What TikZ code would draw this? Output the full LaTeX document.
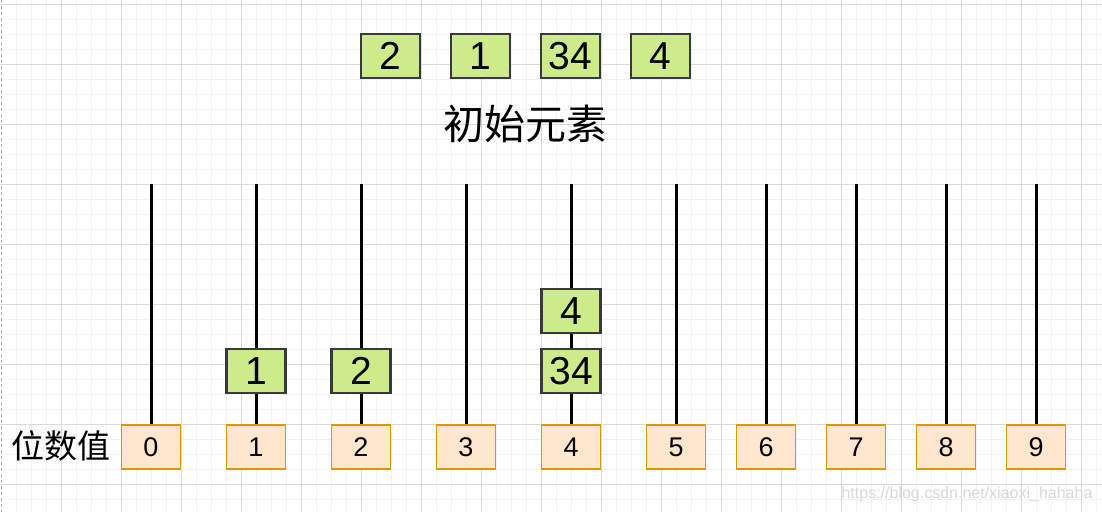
\documentclass[tikz,border=0pt]{standalone}
\usepackage{fontspec}
\setmainfont{Liberation Sans}
\newfontfamily\cjk{Noto Sans CJK SC}
\definecolor{gfill}{HTML}{CDEB8B}
\definecolor{gborder}{HTML}{36393D}
\definecolor{ofill}{HTML}{FFE6CC}
\definecolor{oborder}{HTML}{D79B00}
\definecolor{minorgrid}{HTML}{F2F2F2}
\definecolor{majorgrid}{HTML}{DADADA}
\tikzset{
  gbox/.style={draw=gborder, fill=gfill, line width=2.5pt, minimum width=59pt, minimum height=44pt, inner sep=0pt, font=\fontsize{39}{39}\selectfont},
  obox/.style={draw=oborder, fill=ofill, line width=1.3pt, minimum width=59pt, minimum height=44pt, inner sep=0pt, font=\fontsize{27}{27}\selectfont},
  stem/.style={draw=black, line width=3pt},
  minorline/.style={draw=minorgrid, line width=1pt},
  majorline/.style={draw=majorgrid, line width=1pt},
}
\begin{document}
\begin{tikzpicture}[x=1pt,y=-1pt]
\useasboundingbox (0,0) rectangle (1102,512);
\fill[white] (0,0) rectangle (1102,512);
% grid
\foreach \x in {1.7,16.7,...,1102} \draw[minorline] (\x,0) -- (\x,512);
\foreach \y in {4,19,...,512} \draw[minorline] (0,\y) -- (1102,\y);
\foreach \x in {61.7,121.7,...,1102} \draw[majorline] (\x,0) -- (\x,512);
\foreach \y in {4,64,...,512} \draw[majorline] (0,\y) -- (1102,\y);
\draw[gray!60, dashed, line width=1pt] (1,0) -- (1,512);

% initial elements
\node[gbox] (i1) at (390.5,56) {2};
\node[gbox] (i2) at (480.5,56) {1};
\node[gbox] (i3) at (570.5,56) {34};
\node[gbox] (i4) at (660.5,56) {4};
\node[font=\cjk\fontsize{41}{41}\selectfont] (title) at (525,124) {初始元素};

% buckets
\node[font=\cjk\fontsize{33}{33}\selectfont] (label) at (61,446) {位数值};
\foreach \d/\x in {0/151,1/256,2/361,3/466,4/571,5/676,6/766,7/856,8/946,9/1036}{
  \node[obox] (o\d) at (\x,447) {\d};
  \coordinate (t\d) at (\x,184);
  \draw[stem] (t\d) -- (o\d.north);
}

% distributed elements
\node[gbox] (b1) at (256,371) {1};
\node[gbox] (b2) at (361,371) {2};
\node[gbox] (b34) at (571,371) {34};
\node[gbox] (b4) at (571,311) {4};

% watermark
\node[text=gray!30, font=\fontsize{16}{16}\selectfont] (wm) at (967,494) {https://blog.csdn.net/xiaoxi\_hahaha};
\end{tikzpicture}
\end{document}
